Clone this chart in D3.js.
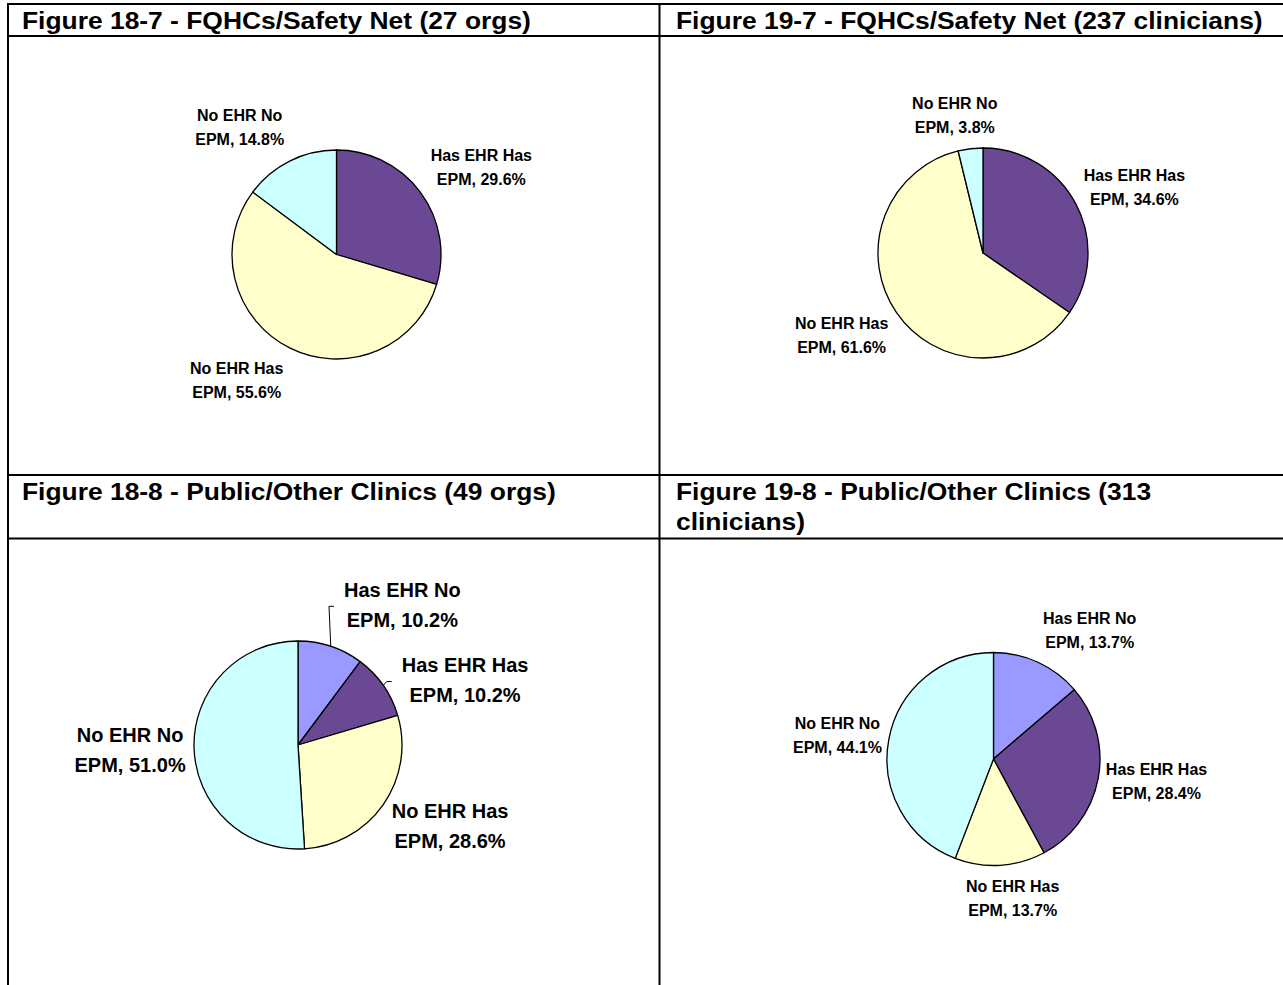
<!DOCTYPE html>
<html>
<head>
<meta charset="utf-8">
<script src="https://cdn.jsdelivr.net/npm/d3@7"></script>
<style>
  body { margin: 0; background: #fff; }
  svg { display: block; font-family: Arial, "Liberation Sans", sans-serif; }
</style>
</head>
<body>
<script>
// data
const categories = ['Has EHR No EPM', 'Has EHR Has EPM', 'No EHR Has EPM', 'No EHR No EPM']
const colors = ['#9999ff', '#6b4894', '#ffffcc', '#ccffff']
const fig18_7 = [0, 29.6, 55.6, 14.8]
const fig19_7 = [0, 34.6, 61.6, 3.8]
const fig18_8 = [10.2, 10.2, 28.6, 51.0]
const fig19_8 = [13.7, 28.4, 13.7, 44.1]
const titles = [
  ['Figure 18-7 - FQHCs/Safety Net (27 orgs)'],
  ['Figure 19-7 - FQHCs/Safety Net (237 clinicians)'],
  ['Figure 18-8 - Public/Other Clinics (49 orgs)'],
  ['Figure 19-8 - Public/Other Clinics (313', 'clinicians)'],
]

const WIDTH = 1283
const HEIGHT = 985
const TITLE_SIZE = 24
const TITLE_STRETCH = 1.1

// layout of the four table cells
const panels = [
  { title: titles[0], values: fig18_7, tx: 22, ty: 29, cx: 336.5, cy: 254.5, r: 104.5, fs: 16, lh: 24,
    nudge: [[0, 0], [29, -1], [-35, -3], [-32, 2]], leader: [] },
  { title: titles[1], values: fig19_7, tx: 676, ty: 29, cx: 983, cy: 253, r: 105, fs: 16, lh: 24,
    nudge: [[0, 0], [23, 2], [-22, 0], [-11, 6]], leader: [] },
  { title: titles[2], values: fig18_8, tx: 22, ty: 500, cx: 298, cy: 745, r: 104, fs: 20, lh: 30,
    nudge: [[59, -4], [49, 17], [34, -2], [-24, 0]], leader: [0, 1] },
  { title: titles[3], values: fig19_8, tx: 676, ty: 500, cx: 993.5, cy: 759, r: 106.5, fs: 16, lh: 24,
    nudge: [[35, 4], [19, -5], [10, -7], [-12, 3]], leader: [] },
]

const svg = d3.select('body').append('svg')
  .attr('width', WIDTH)
  .attr('height', HEIGHT)

// table rules
const rules = [
  [8, 4, WIDTH, 4], [8, 36, WIDTH, 36],
  [8, 475, WIDTH, 475], [8, 538.5, WIDTH, 538.5],
  [8, 3, 8, HEIGHT], [659.5, 3, 659.5, HEIGHT],
]
svg.append('g')
  .selectAll('line')
  .data(rules)
  .enter()
  .append('line')
  .attr('x1', d => d[0]).attr('y1', d => d[1])
  .attr('x2', d => d[2]).attr('y2', d => d[3])
  .attr('stroke', '#000')
  .attr('stroke-width', 2)

const pie = d3.pie().sort(null).value(d => d)

panels.forEach(p => {
  // title
  const t = svg.append('g')
    .attr('transform', `translate(${p.tx},${p.ty}) scale(${TITLE_STRETCH},1)`)
  t.selectAll('text')
    .data(p.title)
    .enter()
    .append('text')
    .attr('y', (d, i) => i * 30)
    .attr('font-size', TITLE_SIZE)
    .attr('font-weight', 'bold')
    .text(d => d)

  const arcs = pie(p.values)
  const arc = d3.arc().innerRadius(0).outerRadius(p.r)
  const labelArc = d3.arc().innerRadius(p.r + 40).outerRadius(p.r + 40)
  const edgeArc = d3.arc().innerRadius(p.r).outerRadius(p.r)

  const g = svg.append('g').attr('transform', `translate(${p.cx},${p.cy})`)

  g.selectAll('path.slice')
    .data(arcs)
    .enter()
    .append('path')
    .attr('class', 'slice')
    .attr('d', arc)
    .attr('fill', (d, i) => colors[i])
    .attr('stroke', '#000')
    .attr('stroke-width', 1.3)
    .attr('stroke-linejoin', 'round')

  arcs.forEach((d, i) => {
    if (d.value <= 0) return
    const c = labelArc.centroid(d)
    const lx = c[0] + p.nudge[i][0]
    const ly = c[1] + p.nudge[i][1]
    const words = categories[i].split(' ')
    const lines = [words.slice(0, 3).join(' '), `${words[3]}, ${d.value.toFixed(1)}%`]
    const lab = g.append('g')
    lab.selectAll('text')
      .data(lines)
      .enter()
      .append('text')
      .attr('x', lx)
      .attr('y', (s, k) => ly - p.lh / 2 + k * p.lh + p.fs * 0.36)
      .attr('text-anchor', 'middle')
      .attr('font-size', p.fs)
      .attr('font-weight', 'bold')
      .text(s => s)

    if (p.leader.includes(i)) {
      const box = lab.node().getBBox()
      const a = edgeArc.centroid(d)
      const end = [box.x - 10, ly + 2]
      g.append('path')
        .attr('d', d3.line()([a, [end[0] - 5, end[1]], end]))
        .attr('fill', 'none')
        .attr('stroke', '#000')
        .attr('stroke-width', 1)
    }
  })
})
</script>
</body>
</html>
